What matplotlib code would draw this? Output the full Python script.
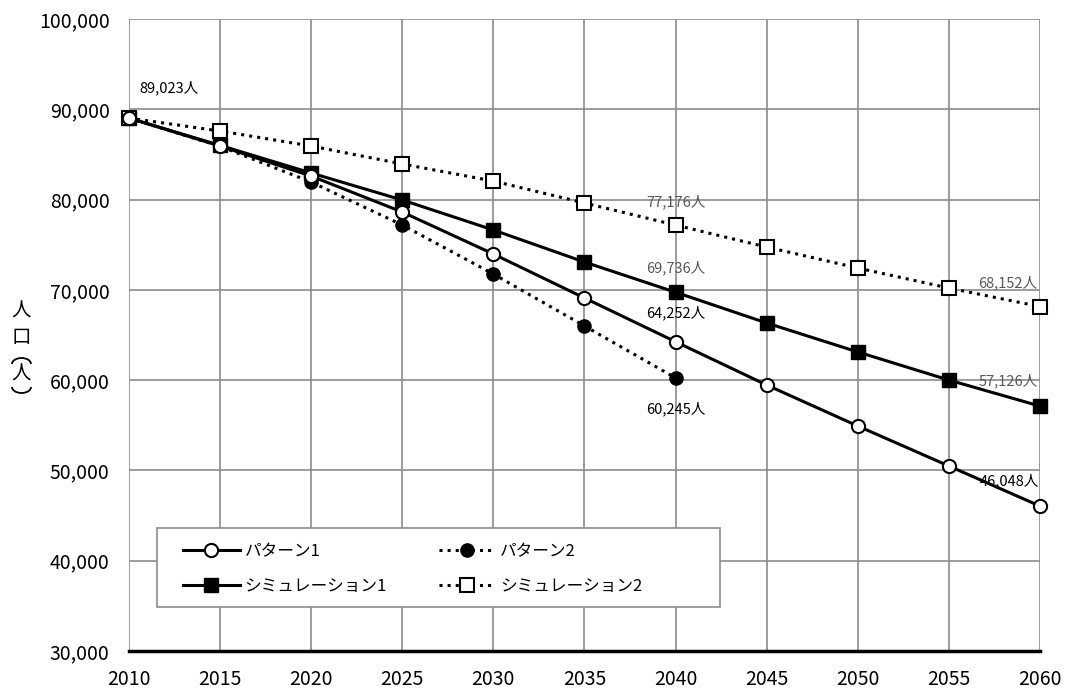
import numpy as np
import matplotlib
matplotlib.use("Agg")
import matplotlib.pyplot as plt
from matplotlib.lines import Line2D
from matplotlib.patches import Rectangle, Arc

plt.rcParams['font.family'] = ['Noto Sans CJK JP', 'DejaVu Sans']

years = [2010, 2015, 2020, 2025, 2030, 2035, 2040, 2045, 2050, 2055, 2060]
pattern1 = [89023, 85930, 82600, 78620, 73970, 69100, 64252, 59460, 54920, 50490, 46048]
pattern2 = [89023, 85900, 81940, 77180, 71750, 66000, 60245]
sim1 = [89023, 86000, 82940, 79950, 76630, 73080, 69736, 66330, 63120, 60010, 57126]
sim2 = [89023, 87590, 85930, 83940, 82050, 79620, 77176, 74740, 72420, 70200, 68152]
names = ['パターン1', 'パターン2', 'シミュレーション1', 'シミュレーション2']

# value labels: (year, value, colour, x offset in years, y offset in people)
labels = [
    (2010, 89023, 'black', 2.2, 3300),
    (2040, 77176, '#595959', 0, 2600),
    (2040, 69736, '#595959', 0, 2650),
    (2040, 64252, 'black', 0, 3150),
    (2040, 60245, 'black', 0, -3400),
    (2060, 68152, '#595959', -1.75, 2650),
    (2060, 57126, '#595959', -1.75, 2750),
    (2060, 46048, 'black', -1.65, 2750),
]

W, H = 1075, 691
fig = plt.figure(figsize=(W / 100, H / 100), dpi=100)
ax = fig.add_axes([0.12, 0.0579, 0.8474, 0.9146])

lw = 2.2
ax.plot(years, pattern1, '-', color='black', lw=lw, marker='o', ms=9.5,
        mfc='white', mec='black', mew=1.5, zorder=4, clip_on=False)
ax.plot(years[:len(pattern2)], pattern2, ':', color='black', lw=lw, marker='o', ms=9.5,
        mfc='black', mec='black', zorder=3, clip_on=False)
ax.plot(years, sim1, '-', color='black', lw=lw, marker='s', ms=10,
        mfc='black', mec='black', zorder=3, clip_on=False)
ax.plot(years, sim2, ':', color='black', lw=lw, marker='s', ms=10,
        mfc='white', mec='black', mew=1.5, zorder=3, clip_on=False)

for x, y, c, dx, dy in labels:
    ax.text(x + dx, y + dy, f'{y:,}人', color=c, fontsize=10.5,
            ha='center', va='center', zorder=5)

ax.set_xlim(2010, 2060)
ax.set_ylim(30000, 100000)
ax.set_xticks(years)
ax.set_yticks(np.arange(30000, 100001, 10000))
ax.yaxis.set_major_formatter(matplotlib.ticker.FuncFormatter(lambda v, p: f'{int(v):,}'))
ax.tick_params(length=0, labelsize=14)
ax.tick_params(axis='y', pad=14)
ax.tick_params(axis='x', pad=13)
ax.grid(True, color='#8c8c8c', lw=1.2)
ax.set_axisbelow(True)
for s in ['top', 'right', 'left']:
    ax.spines[s].set_visible(False)
ax.spines['bottom'].set_linewidth(2.5)
ax.spines['bottom'].set_color('black')

# vertical y-axis title 人口（人）, brackets drawn as arcs
ylab_x = 21.5 / W
fig.text(ylab_x, 1 - 311 / H, '人', fontsize=14, ha='center', va='center')
fig.text(ylab_x, 1 - 338 / H, '口', fontsize=14, ha='center', va='center')
fig.text(ylab_x, 1 - 374 / H, '人', fontsize=14, ha='center', va='center')
fig.add_artist(Arc((ylab_x, 1 - 364 / H), 19 / W, 12 / H, theta1=0, theta2=180,
                   transform=fig.transFigure, color='black', lw=1.3))
fig.add_artist(Arc((ylab_x, 1 - 387 / H), 19 / W, 12 / H, theta1=180, theta2=360,
                   transform=fig.transFigure, color='black', lw=1.3))

handles = [
    Line2D([], [], ls='-', color='black', lw=lw, marker='o', ms=9.5, mfc='white', mec='black', mew=1.5),
    Line2D([], [], ls=':', color='black', lw=lw, marker='o', ms=9.5, mfc='black', mec='black'),
    Line2D([], [], ls='-', color='black', lw=lw, marker='s', ms=10, mfc='black', mec='black'),
    Line2D([], [], ls=':', color='black', lw=lw, marker='s', ms=10, mfc='white', mec='black', mew=1.5),
]
ax.legend([handles[0], handles[2], handles[1], handles[3]],
          [names[0], names[2], names[1], names[3]],
          ncol=2, loc='center left', bbox_to_anchor=(0.0593, 0.1297),
          fontsize=12, handlelength=3.4, handletextpad=0.3, columnspacing=3.1,
          frameon=False, borderpad=0, labelspacing=1.05, borderaxespad=0)
ax.add_patch(Rectangle((0.0307, 0.0696), 0.618, 0.125, transform=ax.transAxes,
                       facecolor='white', edgecolor='#8c8c8c', lw=1.2, zorder=4.5))

fig.savefig('out.png', dpi=100, facecolor='white')
